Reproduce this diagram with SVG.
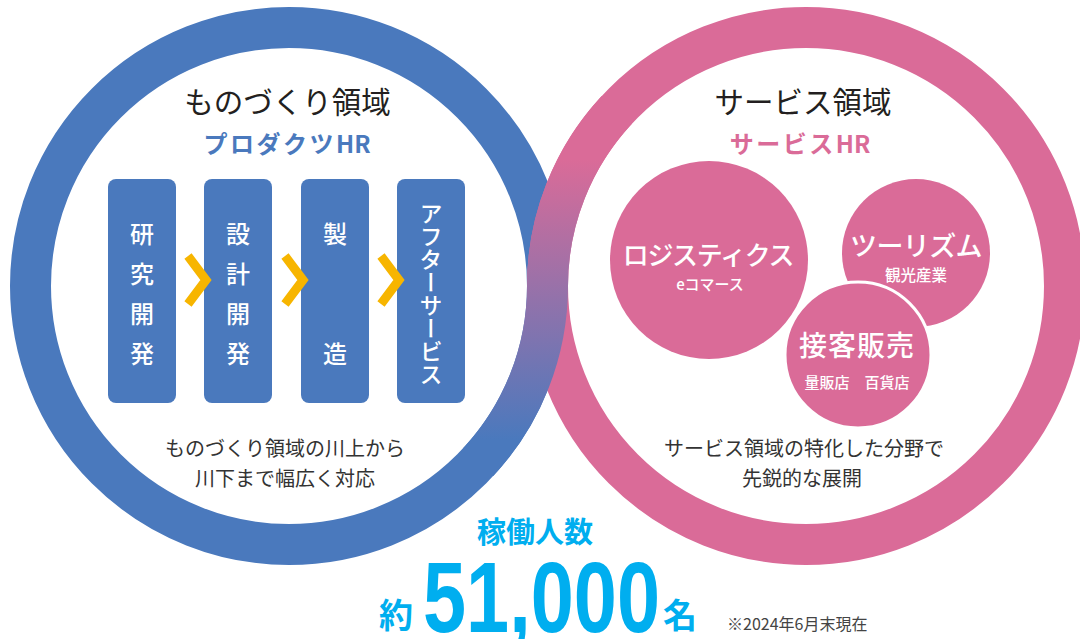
<svg xmlns="http://www.w3.org/2000/svg" width="1080" height="639" viewBox="0 0 1080 639">
  <style>
    text { font-family: "Noto Sans CJK JP", "Noto Sans", sans-serif; }
    .title { font-size: 29.5px; fill: #231f20; text-anchor: middle; }
    .subB { font-size: 24px; font-weight: 700; fill: #4a79bd; text-anchor: middle; letter-spacing: 2.5px; }
    .subP { font-size: 24px; font-weight: 700; fill: #da6b98; text-anchor: middle; letter-spacing: 2.5px; }
    .hr { letter-spacing: 0px; }
    .box { fill: #4a79bd; }
    .boxTxt { font-size: 24px; font-weight: 500; fill: #ffffff; text-anchor: middle; }
    .chev { fill: none; stroke: #f7b500; stroke-width: 9; stroke-linejoin: miter; stroke-miterlimit: 10; }
    .desc { font-size: 20px; fill: #333333; text-anchor: middle; }
    .bub { fill: #da6b98; }
    .bubTxt { font-weight: 500; fill: #ffffff; text-anchor: middle; }
    .cyan { fill: #00aeef; font-weight: 700; text-anchor: middle; }
  </style>
  <defs>
    <linearGradient id="gradBand" gradientUnits="userSpaceOnUse" x1="0" y1="160" x2="0" y2="440">
      <stop offset="0" stop-color="#da6b98"/>
      <stop offset="1" stop-color="#4a79bd"/>
    </linearGradient>
  </defs>
  <rect width="1080" height="639" fill="#ffffff"/>

  <g id="rings">
    <circle cx="289" cy="286" r="258.5" fill="none" stroke="#4a79bd" stroke-width="41"/>
    <circle cx="806" cy="286" r="258.5" fill="none" stroke="#da6b98" stroke-width="41"/>
    <path d="M 616.7 110 A 258.5 258.5 0 0 0 547.5 286 A 258.5 258.5 0 0 1 478.3 462" fill="none" stroke="url(#gradBand)" stroke-width="41"/>
  </g>

  <g id="monozukuri">
    <text class="title" x="287.5" y="113">ものづくり領域</text>
    <text class="subB" x="287" y="153">プロダクツ<tspan class="hr">HR</tspan></text>
    <text class="desc" x="285" y="456">ものづくり領域の川上から</text>
    <text class="desc" x="285" y="486">川下まで幅広く対応</text>
  </g>

  <g id="box-kenkyu">
    <rect class="box" x="108" y="179" width="68" height="224" rx="8"/>
    <text class="boxTxt" x="142" y="243">研</text>
    <text class="boxTxt" x="142" y="283">究</text>
    <text class="boxTxt" x="142" y="323">開</text>
    <text class="boxTxt" x="142" y="363">発</text>
  </g>
  <g id="box-sekkei">
    <rect class="box" x="204" y="179" width="68" height="224" rx="8"/>
    <text class="boxTxt" x="238" y="243">設</text>
    <text class="boxTxt" x="238" y="283">計</text>
    <text class="boxTxt" x="238" y="323">開</text>
    <text class="boxTxt" x="238" y="363">発</text>
  </g>
  <g id="box-seizo">
    <rect class="box" x="301" y="179" width="68" height="224" rx="8"/>
    <text class="boxTxt" x="335" y="243">製</text>
    <text class="boxTxt" x="335" y="363">造</text>
  </g>
  <g id="box-after">
    <rect class="box" x="397" y="179" width="68" height="224" rx="8"/>
    <text class="boxTxt" x="431" y="293.5" style="writing-mode: vertical-rl; font-size: 23px;">アフターサービス</text>
  </g>

  <g id="connectors">
    <polyline class="chev" points="188,256 206,280 188,304"/>
    <polyline class="chev" points="285,256 303,280 285,304"/>
    <polyline class="chev" points="381,256 399,280 381,304"/>
  </g>

  <g id="service">
    <text class="title" x="803" y="113">サービス領域</text>
    <text class="subP" x="800" y="153">サービス<tspan class="hr">HR</tspan></text>
    <text class="desc" x="804" y="456">サービス領域の特化した分野で</text>
    <text class="desc" x="802" y="486">先鋭的な展開</text>
  </g>

  <g id="bubble-logistics">
    <circle class="bub" cx="709" cy="260" r="99"/>
    <text class="bubTxt" x="708" y="265" style="font-size: 26px; letter-spacing: -1.3px;">ロジスティクス</text>
    <text class="bubTxt" x="710" y="290" style="font-size: 15px;">eコマース</text>
  </g>
  <g id="bubble-tourism">
    <circle class="bub" cx="916" cy="253" r="74"/>
    <text class="bubTxt" x="916" y="256" style="font-size: 27px; letter-spacing: -0.6px;">ツーリズム</text>
    <text class="bubTxt" x="916" y="281" style="font-size: 15.5px;">観光産業</text>
  </g>
  <g id="bubble-sales">
    <circle class="bub" cx="858" cy="355" r="73" stroke="#ffffff" stroke-width="3"/>
    <text class="bubTxt" x="857" y="356" style="font-size: 28px; letter-spacing: 1px;">接客販売</text>
    <text class="bubTxt" x="857" y="388" style="font-size: 15px;">量販店　百貨店</text>
  </g>

  <g id="headcount">
    <text class="cyan" x="535" y="543" style="font-size: 29px;">稼働人数</text>
    <text class="cyan" x="396" y="628" style="font-size: 34px;">約</text>
    <text x="423" y="632" textLength="237" lengthAdjust="spacingAndGlyphs" style="font-family: 'Liberation Sans', Arial, sans-serif; font-size: 100px; font-weight: 700; fill: #00aeef;">51,000</text>
    <text class="cyan" x="680" y="628" style="font-size: 34px;">名</text>
    <text x="727" y="630" style="font-size: 16px; fill: #444444;">※2024年6月末現在</text>
  </g>
</svg>
